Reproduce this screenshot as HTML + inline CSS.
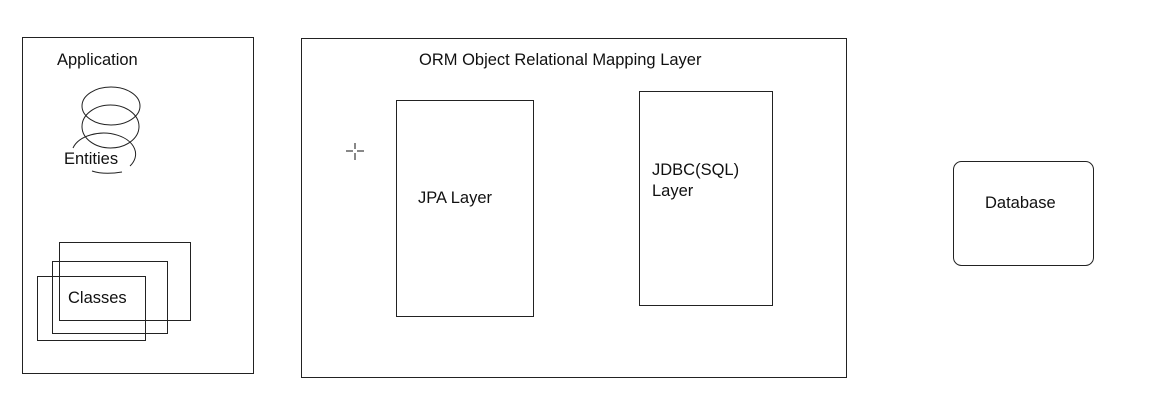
<!DOCTYPE html>
<html><head><style>
body{margin:0;background:#fff;}
svg text{font-family:"Liberation Sans",sans-serif;font-size:16.5px;fill:#111;}
</style></head><body>
<svg width="1156" height="414" viewBox="0 0 1156 414" xmlns="http://www.w3.org/2000/svg">
<rect width="1156" height="414" fill="#fff"/>
<g fill="none" stroke="#222" stroke-width="1">
<rect x="22.5" y="37.5" width="231" height="336"/>
<ellipse cx="111" cy="106" rx="29" ry="19"/>
<ellipse cx="110.5" cy="126.5" rx="28.5" ry="21.5"/>
<path d="M73 148 A32 21 0 1 1 130 166"/>
<path d="M92 171 Q104 175 122 172"/>
<rect x="59.5" y="242.5" width="131" height="78"/>
<rect x="52.5" y="261.5" width="115" height="72"/>
<rect x="37.5" y="276.5" width="108" height="64"/>
<rect x="301.5" y="38.5" width="545" height="339"/>
<rect x="396.5" y="100.5" width="137" height="216"/>
<rect x="639.5" y="91.5" width="133" height="214"/>
<rect x="953.5" y="161.5" width="140" height="104" rx="8"/>
</g>
<g stroke="#888" stroke-width="2"><line x1="355" y1="143" x2="355" y2="160"/><line x1="346" y1="151" x2="364" y2="151"/></g>
<rect x="353" y="149" width="4" height="4" fill="#fff"/>
<text x="57" y="65">Application</text>
<text x="64" y="164">Entities</text>
<text x="68" y="303">Classes</text>
<text x="419" y="65">ORM Object Relational Mapping Layer</text>
<text x="418" y="203">JPA Layer</text>
<text x="652" y="175">JDBC(SQL)</text>
<text x="652" y="196">Layer</text>
<text x="985" y="208">Database</text>
</svg>
</body></html>
